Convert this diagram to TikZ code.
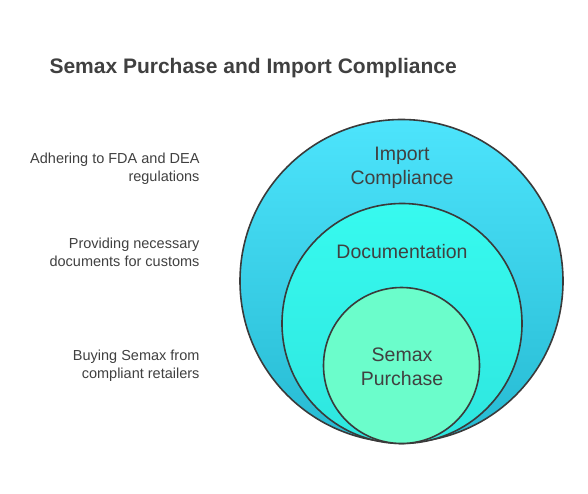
\documentclass[tikz,border=0pt]{standalone}
\usepackage{fontspec}
\setmainfont{Liberation Sans}
\usepackage{tikz}

\definecolor{inktext}{HTML}{404040}
\definecolor{ringline}{HTML}{3A3A3A}
\definecolor{outertop}{HTML}{4DE4FC}
\definecolor{outerbot}{HTML}{26BAD2}
\definecolor{midtop}{HTML}{37FAEF}
\definecolor{midbot}{HTML}{2EE6DF}
\definecolor{innerfill}{HTML}{6BFDCB}

\tikzset{
    ring/.style={circle, draw=ringline, line width=1.6pt, inner sep=0pt},
    ringlabel/.style={text=inktext, font=\fontsize{19.5}{24}\selectfont, align=center},
    sidenote/.style={text=inktext, font=\fontsize{14.5}{18}\selectfont, align=right, anchor=east}
}

\begin{document}
\begin{tikzpicture}[x=1pt,y=-1pt]
    \useasboundingbox (0,0) rectangle (588,493);

    % title
    \node[text=inktext, font=\fontsize{21}{25}\bfseries, anchor=west] (title) at (46,68) {Semax Purchase and Import Compliance};

    % nested circles
    \node[ring, minimum size=323pt, top color=outertop, bottom color=outerbot] (outer) at (401.5,281) {};
    \node[ring, minimum size=240pt, top color=midtop, bottom color=midbot] (middle) at (402,323.5) {};
    \node[ring, minimum size=156pt, fill=innerfill] (inner) at (401.5,365.5) {};

    \node[ringlabel] (import) at (402,168) {Import\\Compliance};
    \node[ringlabel] (docs) at (402,252) {Documentation};
    \node[ringlabel] (semax) at (402,366.5) {Semax\\Purchase};

    % side notes
    \node[sidenote] (adhere) at (203,169) {Adhering to FDA and DEA\\regulations};
    \node[sidenote] (provide) at (203,252) {Providing necessary\\documents for customs};
    \node[sidenote] (buying) at (203,366) {Buying Semax from\\compliant retailers};

\end{tikzpicture}
\end{document}
